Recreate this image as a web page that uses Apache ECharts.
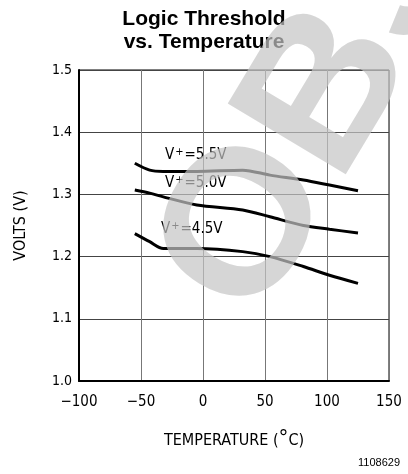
<!DOCTYPE html>
<html>
<head>
<meta charset="utf-8">
<script src="https://cdn.jsdelivr.net/npm/echarts@6/dist/echarts.min.js"></script>
<style>
html,body{margin:0;padding:0;background:#fff;}
#chart{width:408px;height:474px;}
</style>
</head>
<body>
<div id="chart"></div>
<script>
// ---- data ----
var temps = [-55, -43, -32, -5, 32, 54, 81, 102, 125];
var v55 = [1.350, 1.339, 1.337, 1.337, 1.339, 1.331, 1.323, 1.315, 1.306];
var v50 = [1.307, 1.302, 1.296, 1.283, 1.275, 1.264, 1.250, 1.244, 1.238];
var v45 = [1.237, 1.224, 1.213, 1.213, 1.208, 1.200, 1.184, 1.170, 1.157];
var xTickValues = [-100, -50, 0, 50, 100, 150];
var xTickLabels = ['\u2212100', '\u221250', '0', '50', '100', '150'];
var yTickValues = [1.0, 1.1, 1.2, 1.3, 1.4, 1.5];
var yTickLabels = ['1.0', '1.1', '1.2', '1.3', '1.4', '1.5'];
var seriesNames = ['V+=5.5V', 'V+=5.0V', 'V+=4.5V'];

function pairs(xs, ys) { return xs.map(function (x, i) { return [x, ys[i]]; }); }

var chart = echarts.init(document.getElementById('chart'), null, { renderer: 'canvas' });
var condensed = '"DejaVu Sans Condensed", "DejaVu Sans", sans-serif';

function curveLabel(left, top, rest) {
  return {
    type: 'text', left: left, top: top, z: 50,
    style: {
      text: '{v|V}{s|+}{v|' + rest + '}',
      rich: {
        v: { fontFamily: condensed, fontSize: 15, fill: '#000', verticalAlign: 'bottom', lineHeight: 16 },
        s: { fontFamily: condensed, fontSize: 11, fill: '#000', verticalAlign: 'top', lineHeight: 16, padding: [0, 1, 6, 1] }
      }
    }
  };
}

var lineStyle = { color: '#000', width: 3 };

var option = {
  animation: false,
  backgroundColor: '#fff',
  title: {
    text: 'Logic Threshold\nvs. Temperature',
    left: 'center',
    top: 8,
    padding: 0,
    textStyle: { fontFamily: '"Liberation Sans", Arial, sans-serif', fontWeight: 'bold', fontSize: 21, lineHeight: 23, color: '#000' }
  },
  grid: { left: 79, right: 19, top: 70, bottom: 93, show: true, borderColor: '#000', borderWidth: 1 },
  xAxis: {
    type: 'value', min: -100, max: 150, interval: 50,
    name: 'TEMPERATURE ({d|°}C)',
    nameLocation: 'middle', nameGap: 47,
    nameTextStyle: {
      fontFamily: condensed, fontSize: 16, color: '#000',
      rich: { d: { fontFamily: condensed, fontSize: 22, color: '#000', padding: [0, 0, 4, 0] } }
    },
    axisLine: { show: true, onZero: false, lineStyle: { color: '#000', width: 2 } },
    axisTick: { show: false },
    axisLabel: {
      margin: 14, fontFamily: condensed, fontSize: 15, color: '#000',
      formatter: function (v) { var i = xTickValues.indexOf(v); return i >= 0 ? xTickLabels[i] : ''; }
    },
    splitLine: { show: true, lineStyle: { color: '#777', width: 1 } }
  },
  yAxis: {
    type: 'value', min: 1.0, max: 1.5, interval: 0.1,
    name: 'VOLTS (V)',
    nameLocation: 'middle', nameGap: 50,
    nameTextStyle: { fontFamily: condensed, fontSize: 16, color: '#000' },
    axisLine: { show: true, onZero: false, lineStyle: { color: '#000', width: 2 } },
    axisTick: { show: false },
    axisLabel: {
      margin: 7, fontFamily: condensed, fontSize: 14, color: '#000',
      formatter: function (v) {
        for (var i = 0; i < yTickValues.length; i++) { if (Math.abs(yTickValues[i] - v) < 1e-6) return yTickLabels[i]; }
        return '';
      }
    },
    splitLine: { show: true, lineStyle: { color: '#444', width: 1 } }
  },
  series: [
    { name: seriesNames[0], type: 'line', data: pairs(temps, v55), smooth: 0.3, showSymbol: false, lineStyle: lineStyle },
    { name: seriesNames[1], type: 'line', data: pairs(temps, v50), smooth: 0.3, showSymbol: false, lineStyle: lineStyle },
    { name: seriesNames[2], type: 'line', data: pairs(temps, v45), smooth: 0.3, showSymbol: false, lineStyle: lineStyle }
  ],
  graphic: [
    curveLabel(165, 147, '=5.5V'),
    curveLabel(165, 175, '=5.0V'),
    curveLabel(161, 221, '=4.5V'),
    {
      type: 'text', right: 8, top: 457, z: 50,
      style: { text: '1108629', fontFamily: '"Liberation Sans", Arial, sans-serif', fontSize: 11, fill: '#000' }
    },
    {
      type: 'text', x: 207, y: 298, rotation: 1.03, scaleX: 1.05, z: 200, silent: true,
      style: {
        text: 'OBSOLETE', font: 'bold 200px "Liberation Sans", Arial, sans-serif',
        fill: 'rgb(196,196,196)', opacity: 0.7, align: 'left', verticalAlign: 'middle'
      }
    }
  ]
};
chart.setOption(option);
</script>
</body>
</html>
